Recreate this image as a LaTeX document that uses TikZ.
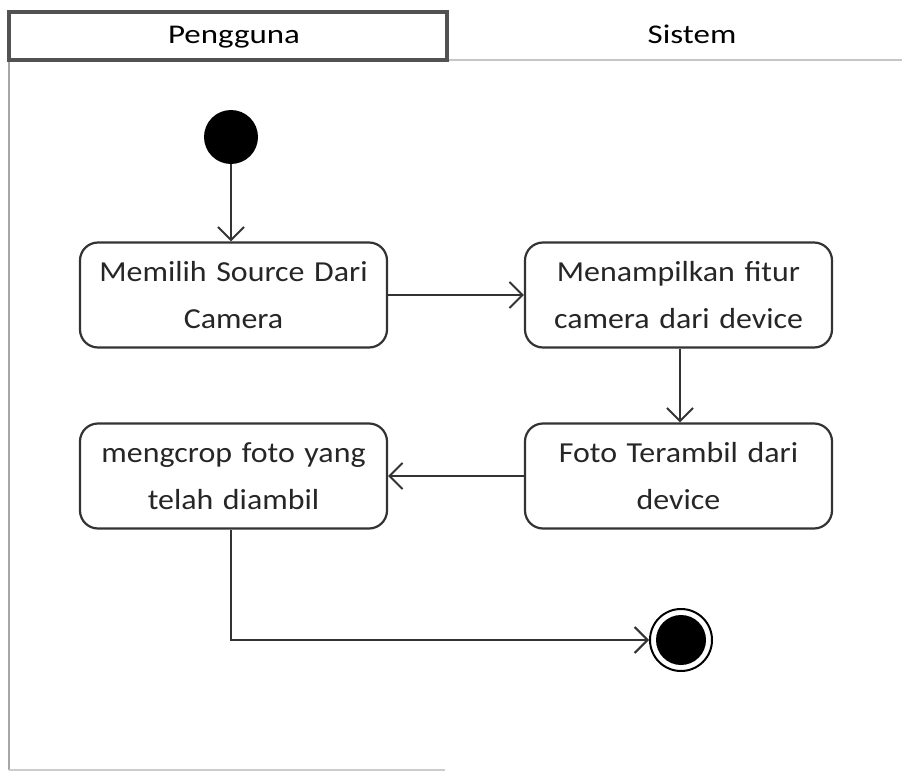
\documentclass[tikz,border=0pt]{standalone}
\usepackage{fontspec}
\setmainfont{Carlito}
\newfontfamily\widefont[FakeStretch=1.1]{Carlito}
\newfontfamily\headfont[FakeStretch=1.22]{Carlito}
\usetikzlibrary{arrows.meta}
\definecolor{ln}{HTML}{333333}
\tikzset{
  act/.style={draw=ln, line width=2.2pt, rounded corners=18pt, minimum width=307pt, minimum height=105pt, text width=295pt, align=center, font=\widefont\fontsize{29}{47}\selectfont, inner sep=0pt, fill=white, text=black!85},
  flow/.style={draw=ln, line width=2.2pt, -{Straight Barb[length=13pt,width=26pt,line width=2pt]}},
  lanetxt/.style={font=\headfont\fontsize{27}{30}\selectfont, inner sep=0pt, anchor=base}
}
\begin{document}
\begin{tikzpicture}[x=1pt,y=-1pt]
\useasboundingbox (0,0) rectangle (902,773);
% swimlane frame
\draw[draw=gray!70, line width=2pt] (9,61) -- (9,770);
\draw[draw=gray!40, line width=1.2pt] (9,770) -- (445,770);
\draw[draw=gray!45, line width=1.2pt] (447,60) -- (902,60);
\draw[draw=ln!85, line width=3.5pt] (9,12) rectangle (447,60);
\node[lanetxt] (lane1) at (234,44) {Pengguna};
\node[lanetxt] (lane2) at (692,44) {Sistem};
% nodes
\node[circle, fill=black, minimum size=54pt, inner sep=0pt] (start) at (231,137) {};
\node[act] (a1) at (233.5,295) {Memilih Source Dari\\Camera};
\node[act] (a2) at (678.5,295) {Menampilkan fitur\\camera dari device};
\node[act] (a3) at (678.5,476) {Foto Terambil dari\\device};
\node[act] (a4) at (233.5,476) {mengcrop foto yang\\telah diambil};
\node[circle, draw=black, line width=2pt, minimum size=62pt, inner sep=0pt] (end) at (681,640) {};
\node[circle, fill=black, minimum size=50pt, inner sep=0pt] (endin) at (681,640) {};
% connectors
\draw[flow] (start) -- (a1.north -| start);
\draw[flow] (a1.east) -- (a2.west);
\draw[flow] (a2.south -| 680,0) -- (a3.north -| 680,0);
\draw[flow] (a3.west) -- (a4.east);
\draw[flow] (a4.south -| start) |- (end.west);
\end{tikzpicture}
\end{document}
